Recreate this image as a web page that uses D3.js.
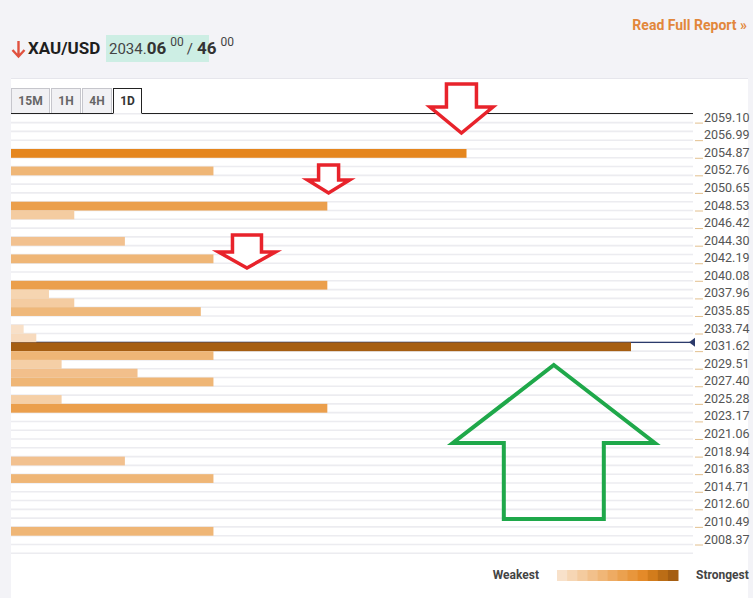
<!DOCTYPE html>
<html>
<head>
<meta charset="utf-8">
<script src="https://cdn.jsdelivr.net/npm/d3@7"></script>
<style>
  html, body { margin: 0; padding: 0; background: #f3f3f7; }
  svg { display: block; font-family: Roboto, "Noto Sans", sans-serif; }
</style>
</head>
<body>
<svg id="chart" width="753" height="598"></svg>
<script>
// ---------- data ----------
const symbol = "XAU/USD";
const bidMain = "2034.", bidBig = "06", bidSup = "00", askBig = "46", askSup = "00";
const tabs = ["15M", "1H", "4H", "1D"];
const activeTab = "1D";
const tickLabels = [2059.10, 2056.99, 2054.87, 2052.76, 2050.65, 2048.53, 2046.42, 2044.30,
  2042.19, 2040.08, 2037.96, 2035.85, 2033.74, 2031.62, 2029.51, 2027.40, 2025.28, 2023.17,
  2021.06, 2018.94, 2016.83, 2014.71, 2012.60, 2010.49, 2008.37];
const levelPrices = [2054.87, 2052.76, 2048.53, 2047.47, 2044.30, 2042.19, 2039.02, 2037.96,
  2036.91, 2035.85, 2033.74, 2032.68, 2031.62, 2030.56, 2029.51, 2028.45, 2027.39, 2025.28,
  2024.22, 2017.88, 2015.77, 2009.43];
const levelStrengths = [36, 16, 25, 5, 9, 16, 25, 3, 5, 15, 1, 2, 49, 16, 4, 10, 16, 4, 25, 9, 16, 16];
const currentLevel = 2032.68;
const legendColors = ["#f8e1ca", "#f6d6b4", "#f4cb9f", "#f2c08b", "#f0b677", "#eeab63",
  "#eba14f", "#e8963c", "#e48a29", "#d27c1c", "#bb6d16", "#a55e12"];
// annotations: tip position in data units (strength, price), size in px
const downArrows = [
  { s: 35.6, p: 2057.85, w: 63, h: 49, sw: 30, hh: 26 },
  { s: 25.1, p: 2050.64, w: 42, h: 28, sw: 20, hh: 13 },
  { s: 18.65, p: 2041.62, w: 57, h: 33, sw: 29, hh: 16 }
];
const upArrows = [{ s: 42.9, p: 2029.95, w: 202, h: 154, sw: 100, hh: 78 }];

// ---------- scales ----------
const svg = d3.select("#chart");
const maxStrength = 49;
const x = d3.scaleLinear().domain([0, maxStrength]).range([11, 631]);
const y = d3.scaleLinear().domain([tickLabels[0], tickLabels[tickLabels.length - 1]]).range([122.6, 544.5]);
const step = (tickLabels[0] - tickLabels[tickLabels.length - 1]) / ((tickLabels.length - 1) * 2);
const rowH = y(tickLabels[0] - step) - y(tickLabels[0]);
const color = d3.scaleLinear().domain([1, 4, 9, 16, 25, 36, 49])
  .range(["#f8e0c8", "#f5cfa6", "#f2c18f", "#efb676", "#eb9f4c", "#e5861e", "#a65e12"]);
const gridRight = 693;

// ---------- backgrounds ----------
svg.append("rect").attr("x", 0).attr("y", 0).attr("width", 753).attr("height", 598).attr("fill", "#f3f3f7");
svg.append("rect").attr("x", 11).attr("y", 78).attr("width", 737).attr("height", 520).attr("fill", "#ffffff");
svg.append("line").attr("x1", 11).attr("x2", 748).attr("y1", 78.5).attr("y2", 78.5).attr("stroke", "#e6e6ec");

// ---------- header ----------
svg.append("path").attr("d", "M18.5,41 L18.5,56 M12.5,50 L18.5,56.5 L24.5,50")
  .attr("fill", "none").attr("stroke", "#e0513f").attr("stroke-width", 2.4);
svg.append("text").attr("x", 28).attr("y", 54).attr("font-size", 17).attr("font-weight", 700)
  .attr("fill", "#1e1e1e").text(symbol);
svg.append("rect").attr("x", 106).attr("y", 35).attr("width", 103).attr("height", 27).attr("fill", "#cdeee4");
const pt = svg.append("text").attr("x", 109).attr("y", 54).attr("fill", "#444");
pt.append("tspan").attr("font-size", 15).text(bidMain);
pt.append("tspan").attr("font-size", 17).attr("font-weight", 700).attr("fill", "#333").text(bidBig);
pt.append("tspan").attr("font-size", 12).attr("dx", 4).attr("dy", -8).text(bidSup);
pt.append("tspan").attr("font-size", 15).attr("dx", 3).attr("dy", 8).text("/");
pt.append("tspan").attr("font-size", 17).attr("font-weight", 700).attr("dx", 4).attr("fill", "#333").text(askBig);
pt.append("tspan").attr("font-size", 12).attr("dx", 4).attr("dy", -8).text(askSup);

svg.append("text").attr("x", 747).attr("y", 30).attr("text-anchor", "end").attr("font-size", 14)
  .attr("font-weight", 700).attr("fill", "#e2873b").text("Read Full Report »");

// ---------- tabs ----------
const tabX = [11, 51, 82, 113], tabW = [38, 29, 29, 28];
tabs.forEach((t, i) => {
  const active = t === activeTab;
  svg.append("rect").attr("x", tabX[i] + 0.5).attr("y", 88.5).attr("width", tabW[i]).attr("height", 25)
    .attr("fill", active ? "#ffffff" : "#f1f1f4").attr("stroke", active ? "#222" : "#c6c6cc");
  svg.append("text").attr("x", tabX[i] + tabW[i] / 2 + 0.5).attr("y", 105).attr("text-anchor", "middle")
    .attr("font-size", 12).attr("font-weight", 700).attr("fill", active ? "#333" : "#666").text(t);
});

// ---------- grid rows ----------
const rowTops = d3.range(0, 51).map(k => y(tickLabels[0] + step) + k * rowH);
svg.append("g").selectAll("line").data(rowTops).join("line")
  .attr("x1", 11).attr("x2", gridRight).attr("y1", d => d).attr("y2", d => d)
  .attr("stroke", "#ececf0").attr("stroke-width", 1.6);

// top black border line
svg.append("line").attr("x1", 11).attr("x2", 113.5).attr("y1", 113.5).attr("y2", 113.5).attr("stroke", "#222");
svg.append("line").attr("x1", 141.5).attr("x2", gridRight).attr("y1", 113.5).attr("y2", 113.5).attr("stroke", "#222");

// current price line
svg.append("line").attr("x1", 11).attr("x2", gridRight - 3).attr("y1", y(currentLevel)).attr("y2", y(currentLevel))
  .attr("stroke", "#2b3a6b").attr("stroke-width", 1.2);
svg.append("path")
  .attr("d", `M${gridRight - 4},${y(currentLevel)} L${gridRight + 2},${y(currentLevel) - 4.5} L${gridRight + 2},${y(currentLevel) + 4.5}Z`)
  .attr("fill", "#2b3a6b");

// ---------- bars ----------
const levels = levelPrices.map((p, i) => ({ p, s: levelStrengths[i] }));
svg.append("g").selectAll("rect").data(levels).join("rect")
  .attr("x", x(0)).attr("y", d => y(d.p) - rowH)
  .attr("width", d => x(d.s) - x(0)).attr("height", rowH)
  .attr("fill", d => color(d.s));

// ---------- axis ----------
const axis = d3.axisRight(y).tickValues(tickLabels).tickSize(8).tickPadding(1)
  .tickFormat(d3.format(".2f"));
const ag = svg.append("g").attr("transform", `translate(${gridRight + 2},0)`).call(axis);
ag.select(".domain").remove();
ag.selectAll(".tick line").attr("stroke", "#e3c08e").attr("stroke-width", 1);
ag.selectAll(".tick text").attr("font-size", 12.5).attr("fill", "#555").attr("dy", "-0.12em")
  .attr("font-family", "Roboto, sans-serif");

// ---------- annotations ----------
function arrowPath(a, dir) {
  const tx = x(a.s), ty = y(a.p);
  const hw = a.w / 2, sh = a.sw / 2;
  if (dir === "down") {
    const top = ty - a.h, hb = ty - a.hh;
    return `M${tx - sh},${top} L${tx + sh},${top} L${tx + sh},${hb} L${tx + hw},${hb} L${tx},${ty} L${tx - hw},${hb} L${tx - sh},${hb} Z`;
  } else {
    const bot = ty + a.h, hb = ty + a.hh;
    return `M${tx},${ty} L${tx + hw},${hb} L${tx + sh},${hb} L${tx + sh},${bot} L${tx - sh},${bot} L${tx - sh},${hb} L${tx - hw},${hb} Z`;
  }
}
svg.append("g").selectAll("path").data(downArrows).join("path")
  .attr("d", d => arrowPath(d, "down")).attr("fill", "#ffffff")
  .attr("stroke", "#e8232b").attr("stroke-width", 3.5).attr("stroke-linejoin", "miter");
svg.append("g").selectAll("path").data(upArrows).join("path")
  .attr("d", d => arrowPath(d, "up")).attr("fill", "none")
  .attr("stroke", "#1fa84a").attr("stroke-width", 4);

// ---------- legend ----------
svg.append("text").attr("x", 539).attr("y", 579).attr("text-anchor", "end").attr("font-size", 12)
  .attr("font-weight", 700).attr("fill", "#444").text("Weakest");
svg.append("text").attr("x", 696).attr("y", 579).attr("font-size", 12)
  .attr("font-weight", 700).attr("fill", "#444").text("Strongest");
const lx = d3.scaleBand().domain(d3.range(legendColors.length)).range([557, 678]);
svg.append("g").selectAll("rect").data(legendColors).join("rect")
  .attr("x", (d, i) => lx(i)).attr("y", 570).attr("width", lx.bandwidth() + 0.5).attr("height", 11)
  .attr("fill", d => d);
</script>
</body>
</html>
